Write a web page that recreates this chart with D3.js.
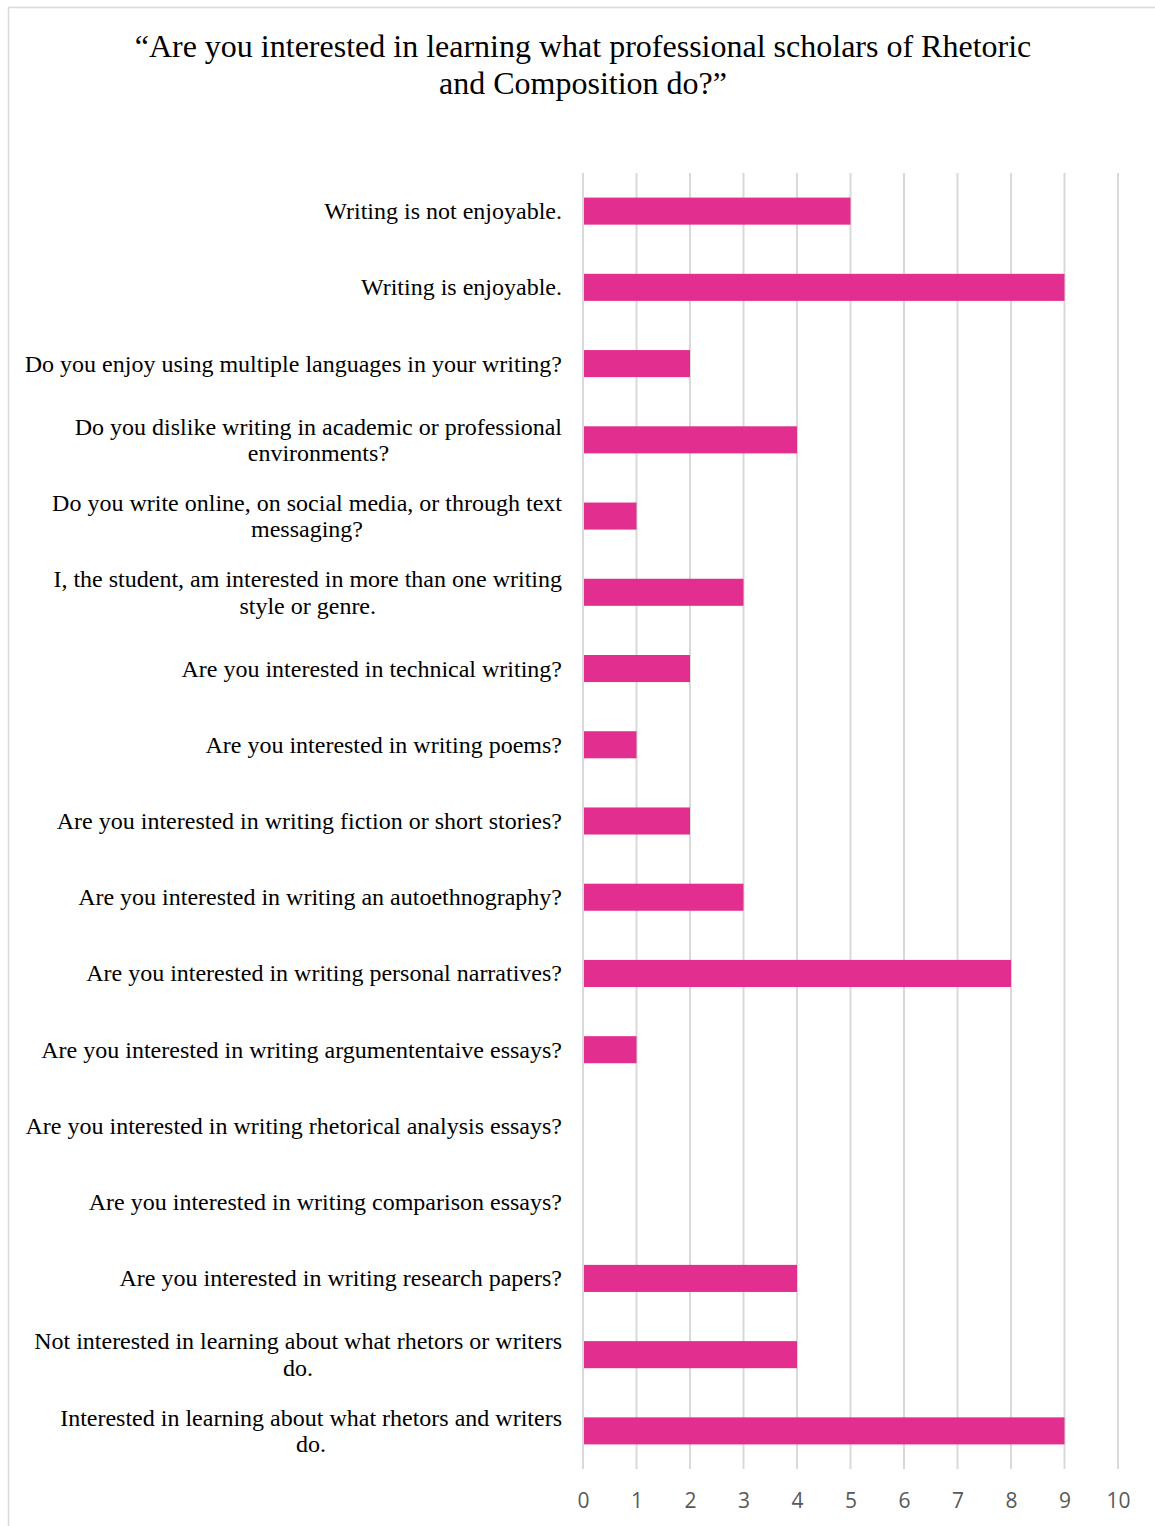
<!DOCTYPE html>
<html>
<head>
<meta charset="utf-8">
<script src="https://cdn.jsdelivr.net/npm/d3@7"></script>
<style>
  html, body { margin: 0; padding: 0; background: #fff; }
  svg { display: block; }
</style>
</head>
<body>
<script>
// Survey answers (each category's lines as wrapped on the chart)
const categories = [
  ["Writing is not enjoyable."],
  ["Writing is enjoyable."],
  ["Do you enjoy using multiple languages in your writing?"],
  ["Do you dislike writing in academic or professional", "environments?"],
  ["Do you write online, on social media, or through text", "messaging?"],
  ["I, the student, am interested in more than one writing", "style or genre."],
  ["Are you interested in technical writing?"],
  ["Are you interested in writing poems?"],
  ["Are you interested in writing fiction or short stories?"],
  ["Are you interested in writing an autoethnography?"],
  ["Are you interested in writing personal narratives?"],
  ["Are you interested in writing argumententaive essays?"],
  ["Are you interested in writing rhetorical analysis essays?"],
  ["Are you interested in writing comparison essays?"],
  ["Are you interested in writing research papers?"],
  ["Not interested in learning about what rhetors or writers", "do."],
  ["Interested in learning about what rhetors and writers", "do."]
];
const counts = [5, 9, 2, 4, 1, 3, 2, 1, 2, 3, 8, 1, 0, 0, 4, 4, 9];
const tickValues = [0, 1, 2, 3, 4, 5, 6, 7, 8, 9, 10];
const titleLines = [
  "\u201CAre you interested in learning what professional scholars of Rhetoric",
  "and Composition do?\u201D"
];

const W = 1155, H = 1526;
const plot = { left: 583, right: 1118, top: 173, bottom: 1469 };
const barColor = "#e22f8f";
const serif = "'Liberation Serif', 'Times New Roman', serif";
const sans = "'Open Sans', 'Liberation Sans', sans-serif";

const svg = d3.select("body").append("svg")
  .attr("width", W).attr("height", H);

// chart frame
svg.append("rect")
  .attr("x", 8.5).attr("y", 7.5)
  .attr("width", W + 20).attr("height", H + 20)
  .attr("fill", "none").attr("stroke", "#d9d9d9").attr("stroke-width", 1.5);

// title
svg.append("g").selectAll("text").data(titleLines).join("text")
  .attr("x", 583).attr("y", (d, i) => 57 + i * 37)
  .attr("text-anchor", "middle")
  .attr("font-family", serif).attr("font-size", 32)
  .attr("fill", "#000")
  .text(d => d);

const x = d3.scaleLinear().domain([0, 10]).range([plot.left, plot.right]);
const idx = d3.range(categories.length);
const y = d3.scaleBand().domain(idx).range([plot.top, plot.bottom]).padding(0);
const barH = y.bandwidth() * 0.355;

// vertical gridlines
svg.append("g").selectAll("line").data(tickValues).join("line")
  .attr("x1", d => x(d)).attr("x2", d => x(d))
  .attr("y1", plot.top).attr("y2", plot.bottom)
  .attr("stroke", "#d9d9d9").attr("stroke-width", 2);

// bars
svg.append("g").selectAll("rect").data(idx).join("rect")
  .attr("x", x(0) + 1)
  .attr("y", i => y(i) + y.bandwidth() / 2 - barH / 2)
  .attr("width", i => Math.max(0, x(counts[i]) - x(0) - 1))
  .attr("height", barH)
  .attr("fill", barColor);

// bottom axis tick labels
const xAxis = d3.axisBottom(x).tickValues(tickValues).tickSize(0).tickPadding(0);
const ax = svg.append("g").attr("transform", `translate(0, ${plot.bottom})`).call(xAxis);
ax.select(".domain").remove();
ax.selectAll("text")
  .attr("dy", null).attr("y", 39)
  .attr("font-family", sans).attr("font-size", 21)
  .attr("fill", "#595959");

// category labels: block right-aligned, wrapped lines centred within block
const labelRight = 562;
const lineGap = 26.5;
const lg = svg.append("g")
  .attr("font-family", serif).attr("font-size", 24).attr("fill", "#000");
idx.forEach(i => {
  const lines = categories[i];
  const cy = y(i) + y.bandwidth() / 2;
  const t = lg.append("text").attr("dominant-baseline", "central");
  const first = t.append("tspan").text(lines[0]);
  const w = first.node().getComputedTextLength();
  const startY = cy - (lines.length - 1) * lineGap / 2;
  t.attr("text-anchor", "middle");
  t.selectAll("tspan").remove();
  lines.forEach((ln, k) => {
    t.append("tspan")
      .attr("x", labelRight - w / 2)
      .attr("y", startY + k * lineGap)
      .text(ln);
  });
});
</script>
</body>
</html>
